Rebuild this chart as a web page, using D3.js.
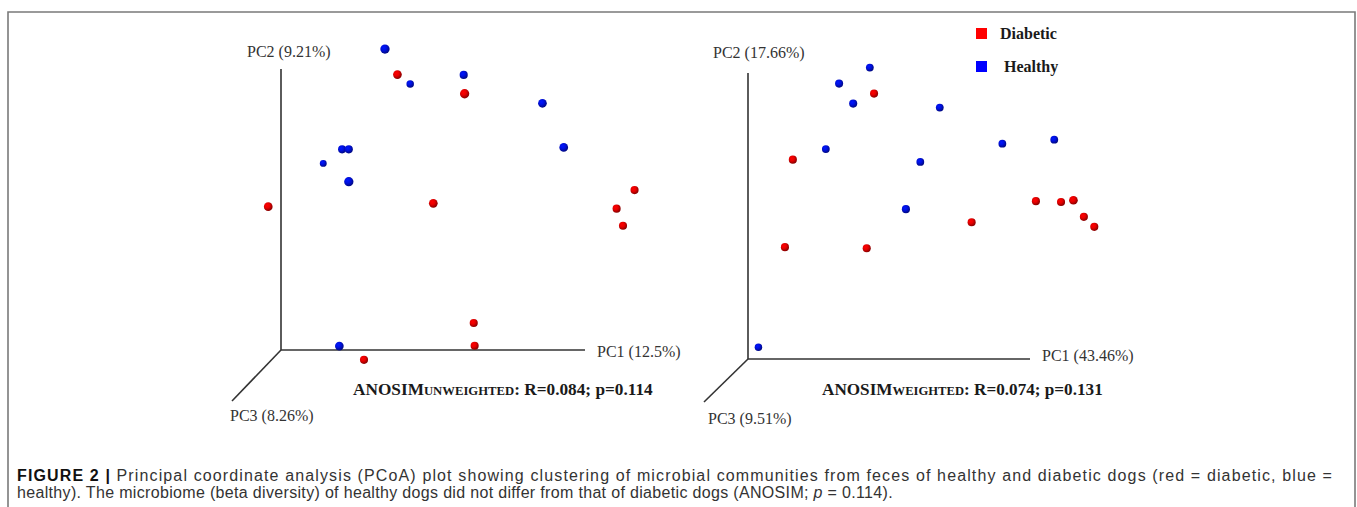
<!DOCTYPE html>
<html><head><meta charset="utf-8">
<script src="https://cdn.jsdelivr.net/npm/d3@7"></script>
<style>html,body{margin:0;padding:0;background:#fff;}svg{display:block;}</style>
</head><body>
<script>
// ---------- DATA ----------
const groups = ["Diabetic", "Healthy"];
const groupColors = ["#e80000", "#0010e0"];

// Panel 1 (unweighted) – projected coordinates (% of axis length)
const unw_healthy_pc1 = [34.2, 42.5, 60.1, 86.0, 93.0, 20.1, 22.3, 13.9, 22.3, 19.2];
const unw_healthy_pc2 = [107.1, 94.7, 97.9, 87.8, 72.1, 71.4, 71.4, 66.4, 59.9, 1.4];
const unw_healthy_pc3 = [0.9, 0.3, 0.5, 0.7, 0.7, 0.5, 0.5, 0.1, 0.9, 0.7];
const unw_diabetic_pc1 = [38.3, 60.4, -4.2, 50.1, 116.3, 110.4, 112.5, 63.4, 63.7, 27.3];
const unw_diabetic_pc2 = [98.0, 91.2, 51.0, 52.2, 56.9, 50.3, 44.2, 9.6, 1.5, -3.5];
const unw_diabetic_pc3 = [0.7, 0.9, 0.7, 0.7, 0.5, 0.5, 0.5, 0.5, 0.5, 0.5];

// Panel 2 (weighted)
const w_healthy_pc1 = [43.2, 32.3, 37.3, 68.0, 27.6, 90.2, 108.6, 61.1, 56.0, 3.7];
const w_healthy_pc2 = [101.9, 96.3, 89.3, 87.9, 73.4, 75.3, 76.7, 68.9, 52.4, 4.1];
const w_healthy_pc3 = [0.4, 0.5, 0.5, 0.4, 0.4, 0.4, 0.4, 0.4, 0.5, 0.3];
const w_diabetic_pc1 = [44.7, 15.9, 102.1, 111.0, 115.4, 119.1, 122.8, 79.3, 13.1, 42.1];
const w_diabetic_pc2 = [92.8, 69.7, 55.2, 54.9, 55.5, 49.7, 46.2, 47.8, 39.1, 38.7];
const w_diabetic_pc3 = [0.5, 0.5, 0.5, 0.5, 0.7, 0.5, 0.5, 0.5, 0.5, 0.5];

const axisLabels1 = ["PC1 (12.5%)", "PC2 (9.21%)", "PC3 (8.26%)"];
const axisLabels2 = ["PC1 (43.46%)", "PC2 (17.66%)", "PC3 (9.51%)"];
const stats1 = {sub: "UNWEIGHTED", rest: ": R=0.084; p=0.114"};
const stats2 = {sub: "WEIGHTED", rest: ": R=0.074; p=0.131"};

const captionBold = "FIGURE 2 | ";
const captionLine1 = "Principal coordinate analysis (PCoA) plot showing clustering of microbial communities from feces of healthy and diabetic dogs (red = diabetic, blue =";
const captionLine2a = "healthy). The microbiome (beta diversity) of healthy dogs did not differ from that of diabetic dogs (ANOSIM; ";
const captionLine2b = "p";
const captionLine2c = " = 0.114).";

// ---------- DRAW ----------
const W = 1357, H = 507;
const svg = d3.select("body").append("svg").attr("width", W).attr("height", H);
const defs = svg.append("defs");
groups.forEach((g, i) => {
  const c = d3.color(groupColors[i]);
  const gr = defs.append("radialGradient").attr("id", "ball" + i)
    .attr("cx", "38%").attr("cy", "35%").attr("r", "65%");
  gr.append("stop").attr("offset", "0%").attr("stop-color", c.brighter(1.0));
  gr.append("stop").attr("offset", "45%").attr("stop-color", c);
  gr.append("stop").attr("offset", "100%").attr("stop-color", c.darker(1.5));
});

// frame
svg.append("path").attr("d", `M8,${H + 2} V12 H1355 V${H + 2}`)
  .attr("fill", "none").attr("stroke", "#7a7a7a").attr("stroke-width", 1.6);

const serif = "'Liberation Serif','Times New Roman',serif";
const rScale = d3.scaleLinear().domain([0, 1]).range([3.3, 4.8]);

function fitWidth(t, target) {
  const len = t.node().getComputedTextLength();
  const fs = +t.attr("font-size");
  t.attr("font-size", fs * target / len);
  t.selectAll("tspan").each(function () {
    const s = d3.select(this);
    if (s.attr("font-size")) s.attr("font-size", +s.attr("font-size") * target / len);
  });
}

function panel(cfg) {
  const g = svg.append("g");
  const x = d3.scaleLinear().domain([0, 100]).range([cfg.ox, cfg.ox + cfg.lenX]);
  const y = d3.scaleLinear().domain([0, 100]).range([cfg.oy, cfg.oy - cfg.lenY]);
  const ax = "#333";
  g.append("line").attr("x1", x(0)).attr("y1", y(0)).attr("x2", x(100)).attr("y2", y(0)).attr("stroke", ax).attr("stroke-width", 1.6);
  g.append("line").attr("x1", x(0)).attr("y1", y(0)).attr("x2", x(0)).attr("y2", y(100)).attr("stroke", ax).attr("stroke-width", 1.6);
  g.append("line").attr("x1", x(0)).attr("y1", y(0)).attr("x2", cfg.zx).attr("y2", cfg.zy).attr("stroke", ax).attr("stroke-width", 1.6);
  const lab = (t, px, py) => g.append("text").attr("x", px).attr("y", py).text(t)
    .attr("font-family", serif).attr("font-size", 16).attr("fill", "#333");
  lab(cfg.labels[0], cfg.pc1x, cfg.pc1y);
  lab(cfg.labels[1], cfg.pc2x, cfg.pc2y);
  lab(cfg.labels[2], cfg.pc3x, cfg.pc3y);
  const st = g.append("text").attr("x", cfg.stx).attr("y", cfg.sty)
    .attr("font-family", serif).attr("font-weight", "bold").attr("font-size", 17).attr("fill", "#1a1a1a");
  st.append("tspan").text("ANOSIM");
  st.append("tspan").text(cfg.stats.sub).attr("font-size", 12.5);
  st.append("tspan").text(cfg.stats.rest);
  fitWidth(st, cfg.stw);
  const pts = [];
  cfg.series.forEach(s => s.pc1.forEach((v, i) => pts.push({x: v, y: s.pc2[i], z: s.pc3[i], gi: s.gi})));
  pts.sort((a, b) => a.z - b.z);
  g.selectAll("circle.pt").data(pts).join("circle").attr("class", "pt")
    .attr("cx", d => x(d.x)).attr("cy", d => y(d.y)).attr("r", d => rScale(d.z))
    .attr("fill", d => `url(#ball${d.gi})`);
}

panel({
  ox: 281, oy: 350, lenX: 304, lenY: 281, zx: 232, zy: 401,
  labels: axisLabels1, pc1x: 597, pc1y: 357, pc2x: 247, pc2y: 57, pc3x: 230, pc3y: 421,
  stats: stats1, stx: 353, sty: 395, stw: 300,
  series: [
    {gi: 1, pc1: unw_healthy_pc1, pc2: unw_healthy_pc2, pc3: unw_healthy_pc3},
    {gi: 0, pc1: unw_diabetic_pc1, pc2: unw_diabetic_pc2, pc3: unw_diabetic_pc3}
  ]
});
panel({
  ox: 748, oy: 359, lenX: 282, lenY: 286, zx: 704, zy: 402,
  labels: axisLabels2, pc1x: 1042, pc1y: 361, pc2x: 713, pc2y: 58, pc3x: 708, pc3y: 424,
  stats: stats2, stx: 822, sty: 395, stw: 281,
  series: [
    {gi: 1, pc1: w_healthy_pc1, pc2: w_healthy_pc2, pc3: w_healthy_pc3},
    {gi: 0, pc1: w_diabetic_pc1, pc2: w_diabetic_pc2, pc3: w_diabetic_pc3}
  ]
});

// legend
const legendSwatch = ["#ff0000", "#0000ff"];
const lg = svg.append("g");
groups.forEach((gname, i) => {
  lg.append("rect").attr("x", 976).attr("y", 28 + i * 33).attr("width", 11).attr("height", 11).attr("fill", legendSwatch[i]);
  lg.append("text").attr("x", i === 0 ? 1000 : 1004).attr("y", 38.5 + i * 33).text(gname)
    .attr("font-family", serif).attr("font-weight", "bold").attr("font-size", 16).attr("fill", "#1a1a1a");
});

// caption
const sans = "'Liberation Sans', Arial, sans-serif";
const c1 = svg.append("text").attr("x", 17).attr("y", 481).attr("font-family", sans).attr("font-size", 16).attr("fill", "#333");
c1.append("tspan").text(captionBold).attr("font-weight", "bold").attr("fill", "#111");
c1.append("tspan").text(captionLine1);
const c2 = svg.append("text").attr("x", 17).attr("y", 498).attr("font-family", sans).attr("font-size", 16).attr("fill", "#333");
c2.append("tspan").text(captionLine2a);
c2.append("tspan").text(captionLine2b).attr("font-style", "italic");
c2.append("tspan").text(captionLine2c);
function fit(t, target) {
  const n = t.text().length;
  const len = t.node().getComputedTextLength();
  t.attr("letter-spacing", (target - len) / n);
}
fit(c1, 1316);
fit(c2, 876);
</script>
</body></html>
